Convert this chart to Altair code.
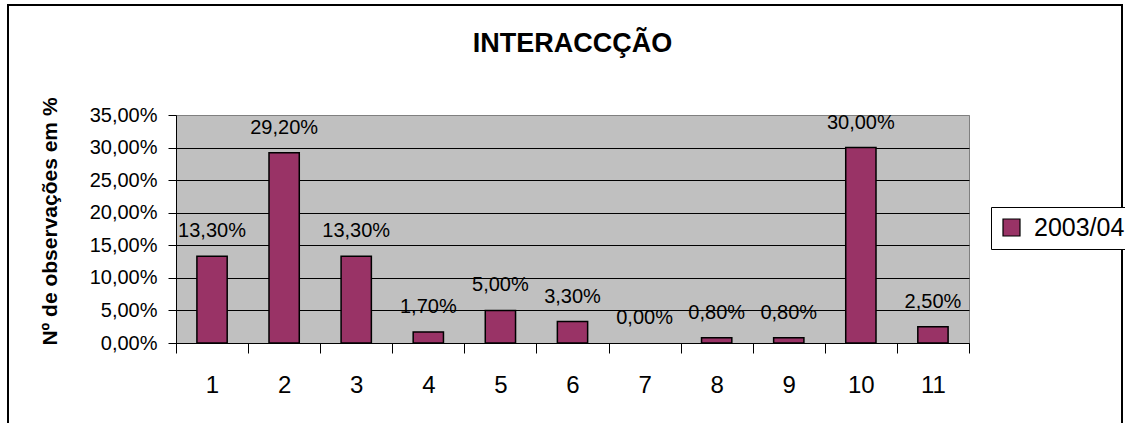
import altair as alt
import pandas as pd

categories = ["1", "2", "3", "4", "5", "6", "7", "8", "9", "10", "11"]
values = [13.3, 29.2, 13.3, 1.7, 5.0, 3.3, 0.0, 0.8, 0.8, 30.0, 2.5]
series = "2003/04"
y_ticks = [0, 5, 10, 15, 20, 25, 30, 35]

df = pd.DataFrame({"cat": categories, "val": values, "serie": [series] * len(values)})

FONT = "Liberation Sans"
W, H = 793, 228

x_enc = alt.X(
    "cat:N",
    sort=categories,
    scale=alt.Scale(paddingInner=0, paddingOuter=0),
    axis=alt.Axis(
        title=None,
        labelAngle=0,
        labelFontSize=24,
        labelColor="#000000",
        labelPadding=20,
        tickBand="extent",
        tickSize=10,
        tickColor="#000000",
        tickWidth=1,
        domainColor="#000000",
        domainWidth=1,
        grid=False,
    ),
)

y_enc = alt.Y(
    "val:Q",
    scale=alt.Scale(domain=[0, 35], nice=False),
    axis=alt.Axis(
        values=y_ticks,
        labelOverlap=False,
        labelExpr="replace(format(datum.value, '.2f'), '.', ',') + '%'",
        labelFontSize=20,
        labelColor="#000000",
        labelPadding=11,
        tickSize=8,
        tickColor="#000000",
        domainColor="#000000",
        grid=True,
        gridColor={"condition": {"test": "datum.value >= 35", "value": "#808080"}, "value": "#000000"},
        gridWidth=1,
        title="Nº de observações em %",
        titleFontSize=21,
        titleFontWeight="bold",
        titleColor="#000000",
        titleAngle=270,
        titleAlign="center",
        titleBaseline="middle",
        titleX=-126,
        titleY=106,
    ),
)

base = alt.Chart(df)

bars = base.mark_bar(
    stroke="#000000", strokeWidth=1.5, width=alt.RelativeBandSize(0.42)
).encode(
    x=x_enc,
    y=y_enc,
    strokeOpacity=alt.condition(alt.datum.val == 0, alt.value(0), alt.value(1)),
    color=alt.Color(
        "serie:N",
        scale=alt.Scale(range=["#993366"]),
        legend=alt.Legend(
            title=None,
            orient="none",
            legendX=815,
            legendY=92,
            symbolType="square",
            symbolSize=289,
            symbolStrokeColor="#000000",
            symbolStrokeWidth=1.2,
            symbolFillColor="#993366",
            labelFontSize=25,
            labelColor="#000000",
            labelOffset=10,
            labelLimit=300,
            padding=8,
            strokeColor="#000000",
            fillColor="#ffffff",
        ),
    ),
)

labels = base.transform_calculate(
    lbl="replace(format(datum.val, '.2f'), '.', ',') + '%'"
).mark_text(
    fontSize=20, baseline="alphabetic", dy=-19, color="#000000", font=FONT
).encode(
    x=x_enc,
    y=y_enc,
    text="lbl:N",
)

frame = alt.Chart(pd.DataFrame({"f": [0]})).mark_rect(
    fill=None, stroke="#000000", strokeWidth=2
).encode(
    x=alt.value(-168),
    x2=alt.value(946),
    y=alt.value(-110),
    y2=alt.value(330),
)

chart = alt.layer(bars, labels, frame).properties(
    width=W,
    height=H,
    title=alt.TitleParams(
        "INTERACCÇÃO",
        fontSize=27,
        fontWeight="bold",
        color="#000000",
        frame="group",
        anchor="middle",
        baseline="alphabetic",
        offset=-75,
        font=FONT,
    ),
    autosize=alt.AutoSizeParams(type="none"),
    padding={"left": 176, "top": 115, "right": 156, "bottom": 80},
).configure(
    font=FONT,
).configure_view(
    fill="#C0C0C0",
    stroke="#808080",
    strokeWidth=1,
).configure_axis(
    labelFont=FONT,
    titleFont=FONT,
)

chart.save("out.html", embed_options={"renderer": "svg", "actions": False})
